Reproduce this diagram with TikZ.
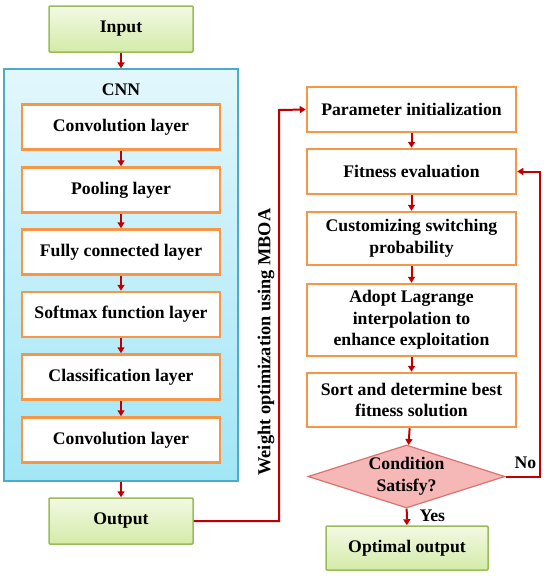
\documentclass[tikz,border=0pt]{standalone}
\usepackage{fontspec}
\setmainfont{Liberation Serif}
\usetikzlibrary{arrows.meta,shapes.geometric}
\definecolor{grnB}{HTML}{9BBB59}
\definecolor{grnT}{HTML}{F2F9E4}
\definecolor{grnD}{HTML}{D4EBA8}
\definecolor{bluB}{HTML}{4BACC6}
\definecolor{bluT}{HTML}{E2F7FC}
\definecolor{bluD}{HTML}{A2E6F6}
\definecolor{orgB}{HTML}{F79646}
\definecolor{arrR}{HTML}{C00000}
\definecolor{dmdF}{HTML}{F5B8B6}
\definecolor{dmdB}{HTML}{D9736F}
\begin{document}
\begin{tikzpicture}[x=1pt,y=-1pt,
  txt/.style={font=\fontsize{17.7}{21.5}\selectfont\bfseries, align=center, text=black},
  greenbox/.style={txt, draw=grnB, line width=1.5pt, rounded corners=1pt, top color=grnT, bottom color=grnD, minimum width=144pt, minimum height=46pt, inner sep=0pt},
  orangebox/.style={txt, draw=orgB, line width=2.5pt, fill=white, minimum width=198pt, minimum height=45pt, inner sep=0pt},
  rbox/.style={orangebox, minimum width=209pt},
  arr/.style={draw=arrR, line width=2pt, -{Triangle[length=6pt,width=7pt]}},
]
\useasboundingbox (0,0) rectangle (550,576);
\node[draw=bluB, line width=1.2pt, top color=bluT, bottom color=bluD, minimum width=234pt, minimum height=412pt, inner sep=0pt] (cnn) at (121,275) {};
\node[txt] (cnnlbl) at (121,90) {CNN};
\node[greenbox] (input) at (121,29) {Input};
\node[orangebox] (c1) at (121,127) {Convolution layer};
\node[orangebox] (pl) at (121,190) {Pooling layer};
\node[orangebox] (fc) at (121,252) {Fully connected layer};
\node[orangebox] (sm) at (121,314.5) {Softmax function layer};
\node[orangebox] (cl) at (121,377) {Classification layer};
\node[orangebox] (c2) at (121,440) {Convolution layer};
\node[greenbox] (output) at (121,521) {Output};

\node[rbox] (pi) at (411.5,109.5) {Parameter initialization};
\node[rbox] (fe) at (411.5,171.5) {Fitness evaluation};
\node[rbox, minimum height=53pt] (cs) at (411.5,238.5) {Customizing switching\\probability};
\node[rbox, minimum height=72pt] (al) at (411.5,320) {Adopt Lagrange\\interpolation to\\enhance exploitation};
\node[rbox, minimum height=54pt] (so) at (411.5,400) {Sort and determine best\\fitness solution};
\node[txt, diamond, draw=dmdB, line width=1.2pt, fill=dmdF, minimum width=197pt, minimum height=63pt, inner sep=0pt] (cond) at (406.5,476.5) {};
\node[txt] (condt) at (406.5,476.5) {Condition\\Satisfy?};
\node[greenbox, minimum width=162pt, minimum height=44pt] (opt) at (407,548) {Optimal output};

\node[txt, font=\fontsize{18.3}{22}\selectfont\bfseries, rotate=90] (wlbl) at (266,342) {Weight optimization using MBOA};
\node[txt, anchor=west] (no) at (511,463) {No};
\node[txt, anchor=west] (yes) at (416,516) {Yes};

\coordinate (o1) at (279,521);
\coordinate (o2) at (279,110);
\coordinate (n1) at (540,476.5);
\coordinate (n2) at (540,171.5);

\draw[arr] (input) -- (cnn.north);
\draw[arr] (c1) -- (pl);
\draw[arr] (pl) -- (fc);
\draw[arr] (fc) -- (sm);
\draw[arr] (sm) -- (cl);
\draw[arr] (cl) -- (c2);
\draw[arr] (cnn.south) -- (output);
\draw[arr] (output.east) -- (o1) -- (o2) -- (pi.west);
\draw[arr] (pi) -- (fe);
\draw[arr] (fe) -- (cs);
\draw[arr] (cs) -- (al);
\draw[arr] (al) -- (so);
\draw[arr] (so) -- (cond);
\draw[arr] (cond) -- (opt);
\draw[arr] (cond.east) -- (n1) -- (n2) -- (fe.east);
\end{tikzpicture}
\end{document}
